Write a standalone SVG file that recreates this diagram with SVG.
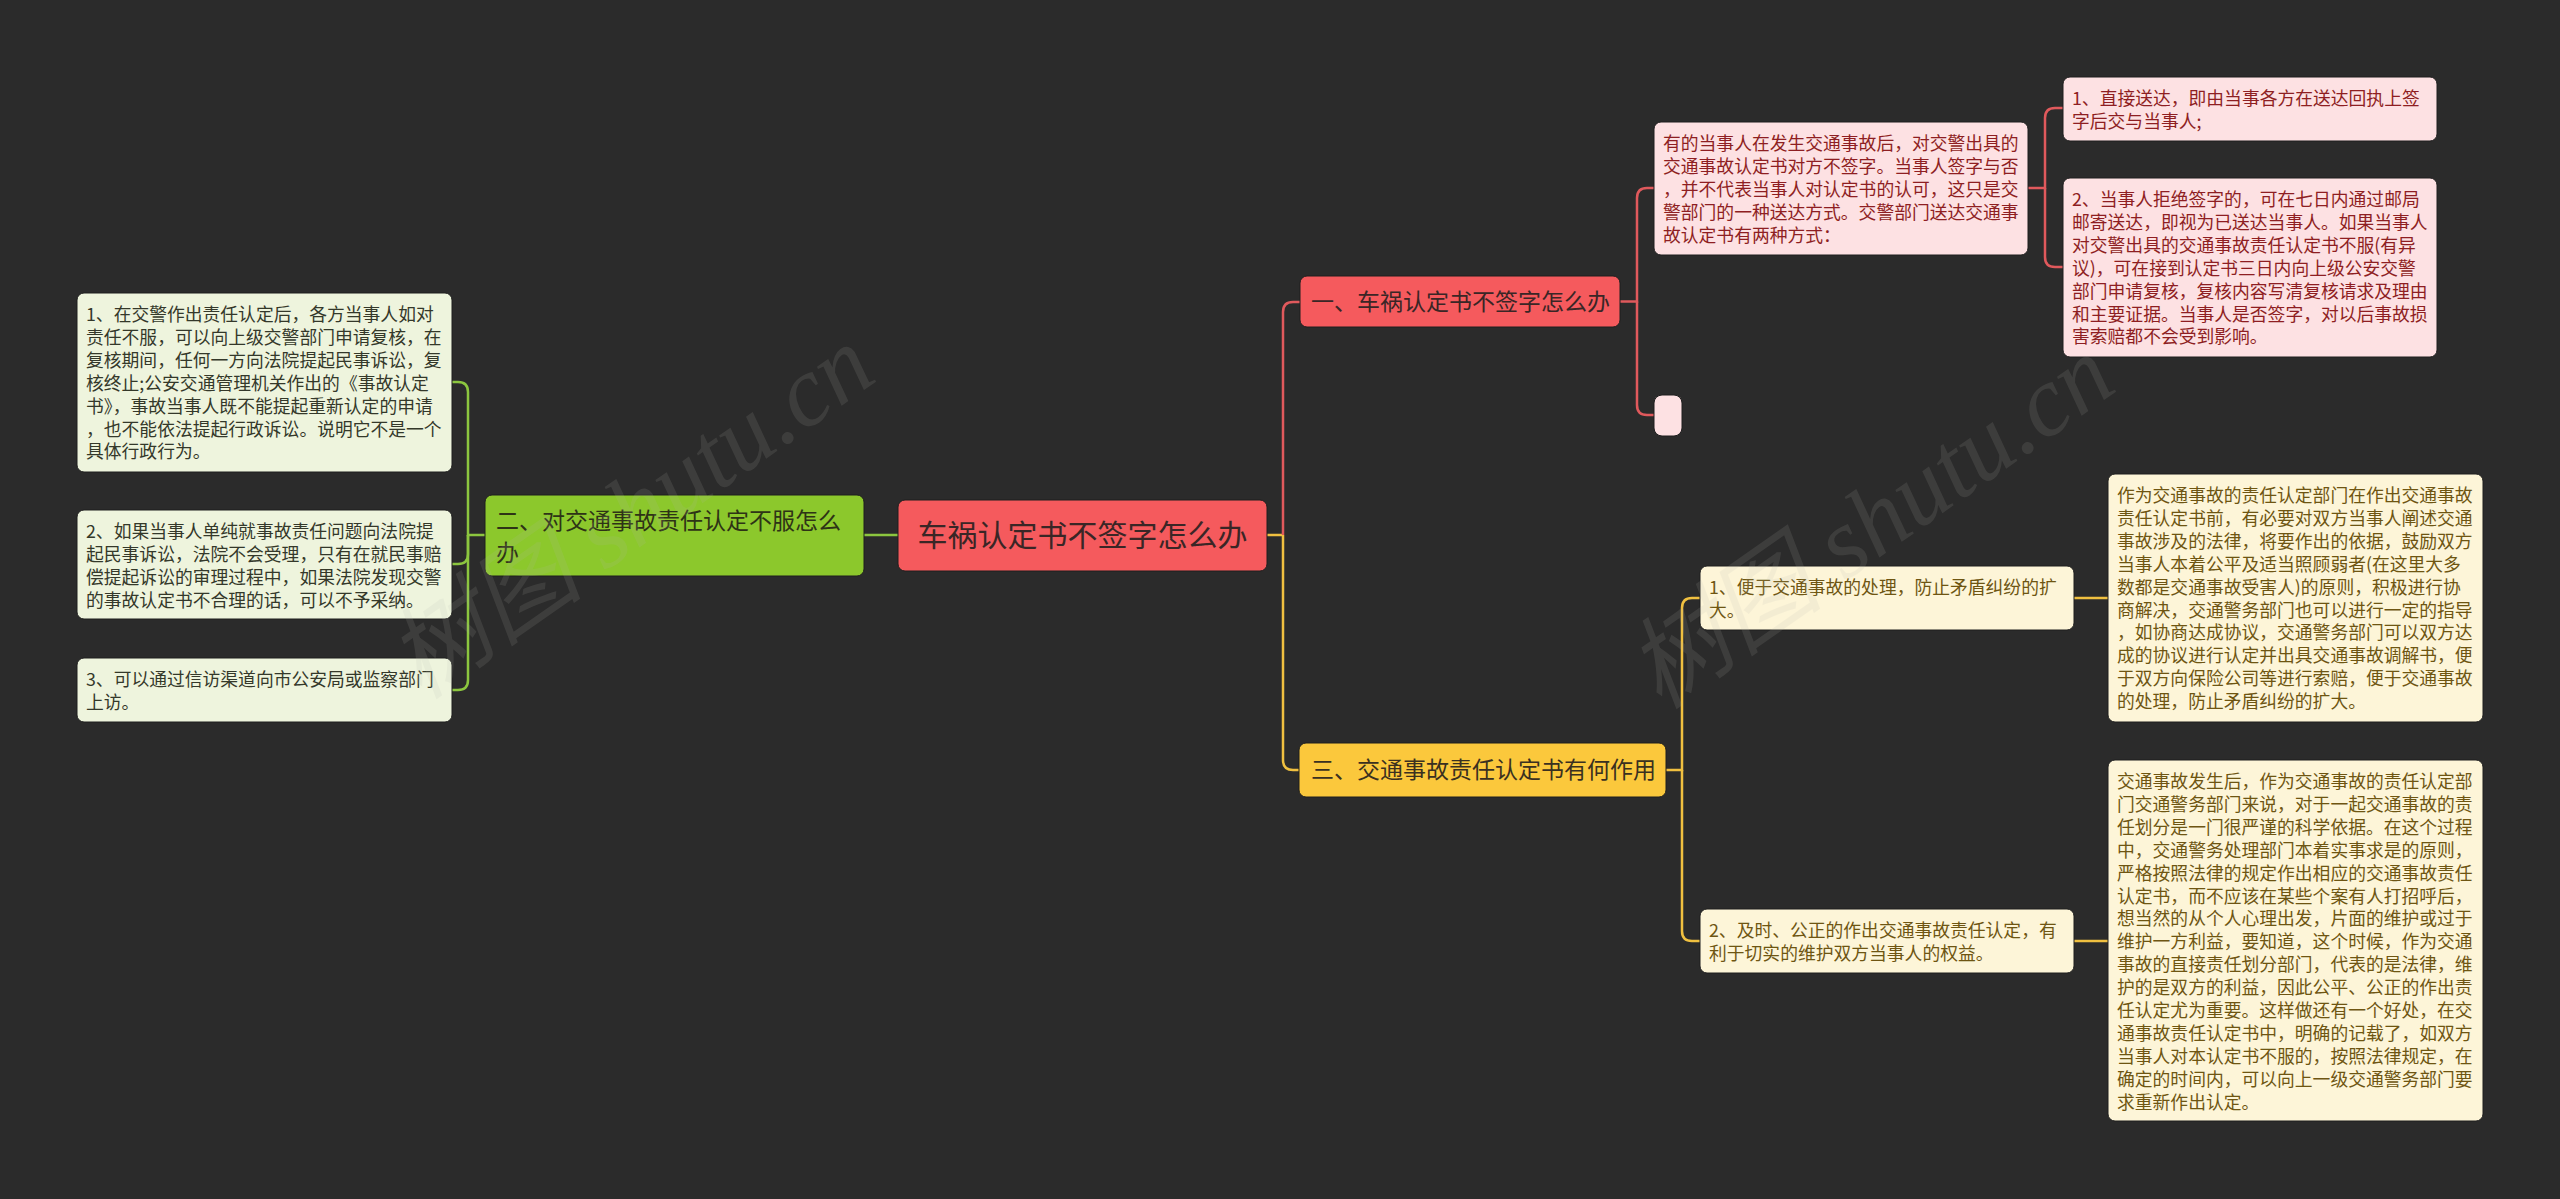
<svg xmlns="http://www.w3.org/2000/svg" width="2560" height="1199" viewBox="0 0 2560 1199">
<style>
text{font-family:"Noto Sans CJK SC","Liberation Sans",sans-serif;}
.leaf{font-size:17.8px;}
.rl{fill:#fde1e3;stroke:#1e1e1e;stroke-width:1;}
.rt{fill:#8e1e22;}
.gl{fill:#eef4dd;stroke:#1e1e1e;stroke-width:1;}
.gt{fill:#34382a;}
.yl{fill:#fdf5d8;stroke:#1e1e1e;stroke-width:1;}
.yt{fill:#6e5512;}
.cr{fill:none;stroke:#e0595c;stroke-width:2.5;}
.cg{fill:none;stroke:#8cc63f;stroke-width:2.5;}
.cy{fill:none;stroke:#f0c040;stroke-width:2.5;}
.l1{font-size:23px;fill:#3a2626;}
.wm{font-size:100px;fill:#b8b8b0;opacity:0.13;font-family:"Liberation Serif","Noto Sans CJK SC",serif;font-style:italic;}
</style>
<rect width="2560" height="1199" fill="#2b2b2b"/>
<g id="connectors">
<path class="cy" d="M1267,535 H1283"/>
<path class="cr" d="M1283,535 V312 Q1283,302 1293,302 H1300"/>
<path class="cy" d="M1283,535 V760 Q1283,770 1293,770 H1299"/>
<path class="cg" d="M898,535 H864"/>
<path class="cg" d="M485,535 H468 V392 Q468,382 458,382 H452"/>
<path class="cg" d="M468,535 V554 Q468,564 458,564 H452"/>
<path class="cg" d="M468,535 V680 Q468,690 458,690 H452"/>
<path class="cr" d="M1620,301.5 H1637 V198 Q1637,188 1647,188 H1654"/>
<path class="cr" d="M1637,301.5 V405 Q1637,415 1647,415 H1654"/>
<path class="cr" d="M2028,188 H2045 V118 Q2045,108 2055,108 H2063"/>
<path class="cr" d="M2045,188 V257 Q2045,267 2055,267 H2063"/>
<path class="cy" d="M1666,770 H1682 V608 Q1682,598 1692,598 H1700"/>
<path class="cy" d="M1682,770 V931 Q1682,941 1692,941 H1700"/>
<path class="cy" d="M2074,598 H2108"/>
<path class="cy" d="M2074,941 H2108"/>
</g>
<g id="root">
<rect x="898" y="500" width="369" height="71" rx="7" fill="#f55a5d" stroke="#1e1e1e" stroke-width="1"/>
<text x="1082.5" y="546" font-size="30" fill="#3a2626" text-anchor="middle">车祸认定书不签字怎么办</text>
</g>
<g id="n1">
<rect x="1300" y="276" width="320" height="51" rx="7" fill="#f55a5d" stroke="#1e1e1e" stroke-width="1"/>
<text class="l1" x="1311" y="309.5">一、车祸认定书不签字怎么办</text>
</g>
<g id="n1a">
<rect class="rl" x="1654" y="122" width="374" height="133" rx="7"/>
<text class="leaf rt" x="1663" y="150"><tspan x="1663">有的当事人在发生交通事故后，对交警出具的</tspan><tspan x="1663" dy="22.9">交通事故认定书对方不签字。当事人签字与否</tspan><tspan x="1663" dy="22.9">，并不代表当事人对认定书的认可，这只是交</tspan><tspan x="1663" dy="22.9">警部门的一种送达方式。交警部门送达交通事</tspan><tspan x="1663" dy="22.9">故认定书有两种方式：</tspan></text>
</g>
<g id="n1a1">
<rect class="rl" x="2063" y="77" width="374" height="64" rx="7"/>
<text class="leaf rt" x="2072" y="105"><tspan x="2072">1、直接送达，即由当事各方在送达回执上签</tspan><tspan x="2072" dy="22.9">字后交与当事人;</tspan></text>
</g>
<g id="n1a2">
<rect class="rl" x="2063" y="178" width="374" height="179" rx="7"/>
<text class="leaf rt" x="2072" y="206"><tspan x="2072">2、当事人拒绝签字的，可在七日内通过邮局</tspan><tspan x="2072" dy="22.9">邮寄送达，即视为已送达当事人。如果当事人</tspan><tspan x="2072" dy="22.9">对交警出具的交通事故责任认定书不服(有异</tspan><tspan x="2072" dy="22.9">议)，可在接到认定书三日内向上级公安交警</tspan><tspan x="2072" dy="22.9">部门申请复核，复核内容写清复核请求及理由</tspan><tspan x="2072" dy="22.9">和主要证据。当事人是否签字，对以后事故损</tspan><tspan x="2072" dy="22.9">害索赔都不会受到影响。</tspan></text>
</g>
<g id="n1b">
<rect class="rl" x="1654" y="395" width="28" height="41" rx="8"/>
</g>
<g id="n2">
<rect x="485" y="495" width="379" height="81" rx="7" fill="#8cc82c" stroke="#1e1e1e" stroke-width="1"/>
<text class="l1" x="496" y="529" style="fill:#2e3316"><tspan x="496">二、对交通事故责任认定不服怎么</tspan><tspan x="496" dy="32">办</tspan></text>
</g>
<g id="n2a">
<rect class="gl" x="77" y="293" width="375" height="179" rx="7"/>
<text class="leaf gt" x="86" y="321"><tspan x="86">1、在交警作出责任认定后，各方当事人如对</tspan><tspan x="86" dy="22.9">责任不服，可以向上级交警部门申请复核，在</tspan><tspan x="86" dy="22.9">复核期间，任何一方向法院提起民事诉讼，复</tspan><tspan x="86" dy="22.9">核终止;公安交通管理机关作出的《事故认定</tspan><tspan x="86" dy="22.9">书》，事故当事人既不能提起重新认定的申请</tspan><tspan x="86" dy="22.9">，也不能依法提起行政诉讼。说明它不是一个</tspan><tspan x="86" dy="22.9">具体行政行为。</tspan></text>
</g>
<g id="n2b">
<rect class="gl" x="77" y="510" width="375" height="109" rx="7"/>
<text class="leaf gt" x="86" y="538"><tspan x="86">2、如果当事人单纯就事故责任问题向法院提</tspan><tspan x="86" dy="22.9">起民事诉讼，法院不会受理，只有在就民事赔</tspan><tspan x="86" dy="22.9">偿提起诉讼的审理过程中，如果法院发现交警</tspan><tspan x="86" dy="22.9">的事故认定书不合理的话，可以不予采纳。</tspan></text>
</g>
<g id="n2c">
<rect class="gl" x="77" y="658" width="375" height="64" rx="7"/>
<text class="leaf gt" x="86" y="686"><tspan x="86">3、可以通过信访渠道向市公安局或监察部门</tspan><tspan x="86" dy="22.9">上访。</tspan></text>
</g>
<g id="n3">
<rect x="1299" y="743" width="367" height="54" rx="7" fill="#fbc83c" stroke="#1e1e1e" stroke-width="1"/>
<text class="l1" x="1311" y="778" style="fill:#3a3020">三、交通事故责任认定书有何作用</text>
</g>
<g id="n3a">
<rect class="yl" x="1700" y="566" width="374" height="64" rx="7"/>
<text class="leaf yt" x="1709" y="594"><tspan x="1709">1、便于交通事故的处理，防止矛盾纠纷的扩</tspan><tspan x="1709" dy="22.9">大。</tspan></text>
</g>
<g id="n3a1">
<rect class="yl" x="2108" y="474" width="375" height="248" rx="7"/>
<text class="leaf yt" x="2117" y="502"><tspan x="2117">作为交通事故的责任认定部门在作出交通事故</tspan><tspan x="2117" dy="22.9">责任认定书前，有必要对双方当事人阐述交通</tspan><tspan x="2117" dy="22.9">事故涉及的法律，将要作出的依据，鼓励双方</tspan><tspan x="2117" dy="22.9">当事人本着公平及适当照顾弱者(在这里大多</tspan><tspan x="2117" dy="22.9">数都是交通事故受害人)的原则，积极进行协</tspan><tspan x="2117" dy="22.9">商解决，交通警务部门也可以进行一定的指导</tspan><tspan x="2117" dy="22.9">，如协商达成协议，交通警务部门可以双方达</tspan><tspan x="2117" dy="22.9">成的协议进行认定并出具交通事故调解书，便</tspan><tspan x="2117" dy="22.9">于双方向保险公司等进行索赔，便于交通事故</tspan><tspan x="2117" dy="22.9">的处理，防止矛盾纠纷的扩大。</tspan></text>
</g>
<g id="n3b">
<rect class="yl" x="1700" y="909" width="374" height="64" rx="7"/>
<text class="leaf yt" x="1709" y="937"><tspan x="1709">2、及时、公正的作出交通事故责任认定，有</tspan><tspan x="1709" dy="22.9">利于切实的维护双方当事人的权益。</tspan></text>
</g>
<g id="n3b1">
<rect class="yl" x="2108" y="760" width="375" height="361" rx="7"/>
<text class="leaf yt" x="2117" y="788"><tspan x="2117">交通事故发生后，作为交通事故的责任认定部</tspan><tspan x="2117" dy="22.9">门交通警务部门来说，对于一起交通事故的责</tspan><tspan x="2117" dy="22.9">任划分是一门很严谨的科学依据。在这个过程</tspan><tspan x="2117" dy="22.9">中，交通警务处理部门本着实事求是的原则，</tspan><tspan x="2117" dy="22.9">严格按照法律的规定作出相应的交通事故责任</tspan><tspan x="2117" dy="22.9">认定书，而不应该在某些个案有人打招呼后，</tspan><tspan x="2117" dy="22.9">想当然的从个人心理出发，片面的维护或过于</tspan><tspan x="2117" dy="22.9">维护一方利益，要知道，这个时候，作为交通</tspan><tspan x="2117" dy="22.9">事故的直接责任划分部门，代表的是法律，维</tspan><tspan x="2117" dy="22.9">护的是双方的利益，因此公平、公正的作出责</tspan><tspan x="2117" dy="22.9">任认定尤为重要。这样做还有一个好处，在交</tspan><tspan x="2117" dy="22.9">通事故责任认定书中，明确的记载了，如双方</tspan><tspan x="2117" dy="22.9">当事人对本认定书不服的，按照法律规定，在</tspan><tspan x="2117" dy="22.9">确定的时间内，可以向上一级交通警务部门要</tspan><tspan x="2117" dy="22.9">求重新作出认定。</tspan></text>
</g>
<g id="watermarks">
<text class="wm" x="650" y="540" text-anchor="middle" transform="rotate(-35 650 540)">树图 shutu.cn</text>
<text class="wm" x="1890" y="550" text-anchor="middle" transform="rotate(-35 1890 550)">树图 shutu.cn</text>
</g>
</svg>
